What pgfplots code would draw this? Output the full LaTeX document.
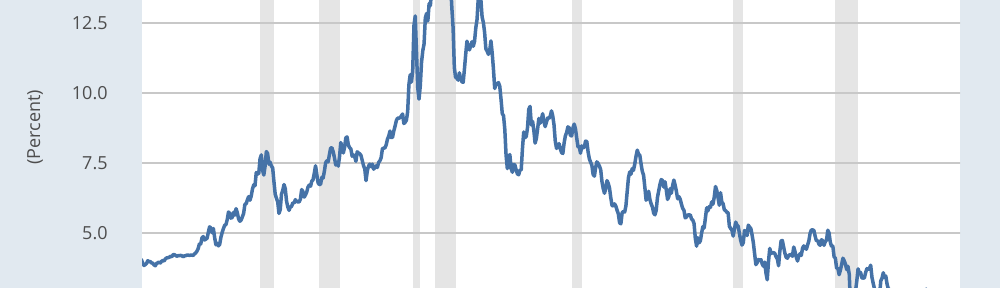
\documentclass[border=0pt]{standalone}
\usepackage{pgfplots}
\pgfplotsset{compat=1.18}
\usepackage{fontspec}
\setmainfont{Open Sans}
\definecolor{fredbg}{HTML}{E1E9F0}
\definecolor{fredline}{HTML}{4572A7}
\definecolor{recgray}{HTML}{E5E5E5}
\definecolor{gridgray}{HTML}{C8C8C8}
\definecolor{ticktext}{HTML}{4D4D4D}
\begin{document}
\begin{tikzpicture}
\fill[fredbg] (0,0) rectangle (500pt,144pt);
\node[rotate=90, font=\fontsize{9}{11}\selectfont, text=ticktext] at (17.5pt,80.3pt) {(Percent)};
\begin{axis}[
  at={(71pt,0pt)}, anchor=south west,
  scale only axis, width=409pt, height=144pt,
  xmin=1962.12, xmax=2016.15,
  ymin=3.036, ymax=13.321,
  axis background/.style={fill=white},
  axis line style={draw=none},
  xtick=\empty,
  ytick={5,7.5,10,12.5},
  major tick length=0pt,
  /pgf/number format/assume math mode=true,
  yticklabel={\pgfmathprintnumber[fixed,fixed zerofill,precision=1]{\tick}},
  yticklabel style={font=\fontsize{9}{11}\selectfont, text=ticktext, inner sep=0pt, anchor=east, xshift=-17pt},
  clip=true,
]
\addplot[fill=recgray, draw=none] coordinates {(1969.917,0) (1969.917,20) (1970.833,20) (1970.833,0)} -- cycle;
\addplot[fill=recgray, draw=none] coordinates {(1973.833,0) (1973.833,20) (1975.167,20) (1975.167,0)} -- cycle;
\addplot[fill=recgray, draw=none] coordinates {(1980.0,0) (1980.0,20) (1980.5,20) (1980.5,0)} -- cycle;
\addplot[fill=recgray, draw=none] coordinates {(1981.5,0) (1981.5,20) (1982.833,20) (1982.833,0)} -- cycle;
\addplot[fill=recgray, draw=none] coordinates {(1990.5,0) (1990.5,20) (1991.167,20) (1991.167,0)} -- cycle;
\addplot[fill=recgray, draw=none] coordinates {(2001.167,0) (2001.167,20) (2001.833,20) (2001.833,0)} -- cycle;
\addplot[fill=recgray, draw=none] coordinates {(2007.917,0) (2007.917,20) (2009.417,20) (2009.417,0)} -- cycle;
\addplot[gridgray, line width=0.65pt] coordinates {(1950,5) (2030,5)};
\addplot[gridgray, line width=0.65pt] coordinates {(1950,7.5) (2030,7.5)};
\addplot[gridgray, line width=0.65pt] coordinates {(1950,10) (2030,10)};
\addplot[gridgray, line width=0.65pt] coordinates {(1950,12.5) (2030,12.5)};
\addplot[fredline, line width=1.75pt, line join=round, mark=none]
  table[header=false, row sep=\\, y index=0, x expr={1962+\coordindex/12}] {
4.08\\ 4.04\\ 3.93\\ 3.84\\ 3.87\\ 3.91\\ 4.01\\ 3.98\\ 3.98\\ 3.93\\ 3.92\\ 3.86\\
3.83\\ 3.92\\ 3.93\\ 3.97\\ 3.93\\ 3.99\\ 4.02\\ 4.00\\ 4.08\\ 4.11\\ 4.12\\ 4.13\\
4.17\\ 4.15\\ 4.22\\ 4.23\\ 4.20\\ 4.17\\ 4.19\\ 4.19\\ 4.20\\ 4.19\\ 4.15\\ 4.18\\
4.19\\ 4.21\\ 4.21\\ 4.20\\ 4.21\\ 4.21\\ 4.20\\ 4.25\\ 4.29\\ 4.35\\ 4.45\\ 4.62\\
4.61\\ 4.83\\ 4.87\\ 4.75\\ 4.78\\ 4.81\\ 5.02\\ 5.22\\ 5.18\\ 5.01\\ 5.16\\ 4.84\\
4.58\\ 4.63\\ 4.54\\ 4.59\\ 4.85\\ 5.02\\ 5.16\\ 5.28\\ 5.30\\ 5.48\\ 5.75\\ 5.70\\
5.53\\ 5.56\\ 5.74\\ 5.64\\ 5.87\\ 5.72\\ 5.50\\ 5.42\\ 5.46\\ 5.58\\ 5.70\\ 6.03\\
6.04\\ 6.19\\ 6.30\\ 6.17\\ 6.32\\ 6.57\\ 6.72\\ 6.69\\ 7.16\\ 7.10\\ 7.14\\ 7.65\\
7.79\\ 7.24\\ 7.07\\ 7.39\\ 7.91\\ 7.84\\ 7.46\\ 7.53\\ 7.39\\ 7.33\\ 6.84\\ 6.39\\
6.24\\ 6.11\\ 5.70\\ 5.83\\ 6.39\\ 6.52\\ 6.73\\ 6.58\\ 6.14\\ 5.93\\ 5.81\\ 5.93\\
5.95\\ 6.08\\ 6.07\\ 6.19\\ 6.13\\ 6.11\\ 6.11\\ 6.21\\ 6.55\\ 6.48\\ 6.28\\ 6.36\\
6.46\\ 6.64\\ 6.71\\ 6.67\\ 6.85\\ 6.90\\ 7.13\\ 7.40\\ 7.09\\ 6.79\\ 6.73\\ 6.74\\
6.99\\ 6.96\\ 7.21\\ 7.51\\ 7.58\\ 7.54\\ 7.81\\ 8.04\\ 8.04\\ 7.90\\ 7.68\\ 7.43\\
7.50\\ 7.39\\ 7.73\\ 8.23\\ 8.06\\ 7.86\\ 8.06\\ 8.40\\ 8.43\\ 8.14\\ 8.05\\ 8.00\\
7.74\\ 7.79\\ 7.73\\ 7.56\\ 7.90\\ 7.86\\ 7.83\\ 7.77\\ 7.59\\ 7.41\\ 7.29\\ 6.87\\
7.21\\ 7.39\\ 7.46\\ 7.37\\ 7.46\\ 7.28\\ 7.33\\ 7.40\\ 7.34\\ 7.52\\ 7.58\\ 7.69\\
8.01\\ 8.03\\ 8.04\\ 8.15\\ 8.35\\ 8.46\\ 8.64\\ 8.41\\ 8.42\\ 8.64\\ 8.81\\ 9.01\\
9.10\\ 9.10\\ 9.12\\ 9.18\\ 9.25\\ 8.91\\ 8.95\\ 9.03\\ 9.33\\ 10.30\\ 10.65\\ 10.39\\
10.80\\ 12.41\\ 12.75\\ 11.47\\ 10.18\\ 9.78\\ 10.25\\ 11.10\\ 11.51\\ 11.75\\ 12.68\\ 12.84\\
12.57\\ 13.19\\ 13.12\\ 13.68\\ 14.10\\ 13.47\\ 14.28\\ 14.94\\ 15.32\\ 15.15\\ 13.39\\ 13.72\\
14.59\\ 14.43\\ 13.86\\ 13.87\\ 13.62\\ 14.30\\ 13.95\\ 13.06\\ 12.34\\ 10.91\\ 10.55\\ 10.54\\
10.46\\ 10.72\\ 10.51\\ 10.40\\ 10.38\\ 10.85\\ 11.38\\ 11.85\\ 11.65\\ 11.54\\ 11.69\\ 11.83\\
11.67\\ 11.84\\ 12.32\\ 12.63\\ 13.41\\ 13.56\\ 13.36\\ 12.72\\ 12.52\\ 12.16\\ 11.57\\ 11.50\\
11.38\\ 11.51\\ 11.86\\ 11.43\\ 10.85\\ 10.16\\ 10.31\\ 10.33\\ 10.37\\ 10.24\\ 9.78\\ 9.26\\
9.19\\ 8.70\\ 7.78\\ 7.30\\ 7.71\\ 7.80\\ 7.30\\ 7.17\\ 7.45\\ 7.43\\ 7.25\\ 7.11\\
7.08\\ 7.25\\ 7.25\\ 8.02\\ 8.61\\ 8.40\\ 8.45\\ 8.76\\ 9.42\\ 9.52\\ 8.86\\ 8.99\\
8.67\\ 8.21\\ 8.37\\ 8.72\\ 9.09\\ 8.92\\ 9.06\\ 9.26\\ 8.98\\ 8.80\\ 8.96\\ 9.11\\
9.09\\ 9.17\\ 9.36\\ 9.18\\ 8.86\\ 8.28\\ 8.02\\ 8.11\\ 8.19\\ 8.01\\ 7.87\\ 7.84\\
8.21\\ 8.47\\ 8.59\\ 8.79\\ 8.76\\ 8.48\\ 8.47\\ 8.75\\ 8.89\\ 8.72\\ 8.39\\ 8.08\\
8.09\\ 7.85\\ 8.11\\ 8.04\\ 8.07\\ 8.28\\ 8.27\\ 7.90\\ 7.65\\ 7.53\\ 7.42\\ 7.09\\
7.03\\ 7.34\\ 7.54\\ 7.48\\ 7.39\\ 7.26\\ 6.84\\ 6.59\\ 6.42\\ 6.59\\ 6.87\\ 6.77\\
6.60\\ 6.26\\ 5.98\\ 5.97\\ 6.04\\ 5.96\\ 5.81\\ 5.68\\ 5.36\\ 5.33\\ 5.72\\ 5.77\\
5.75\\ 5.97\\ 6.48\\ 6.97\\ 7.18\\ 7.10\\ 7.30\\ 7.24\\ 7.46\\ 7.74\\ 7.96\\ 7.81\\
7.78\\ 7.47\\ 7.20\\ 7.06\\ 6.63\\ 6.17\\ 6.28\\ 6.49\\ 6.20\\ 6.04\\ 5.93\\ 5.71\\
5.65\\ 5.81\\ 6.27\\ 6.51\\ 6.74\\ 6.91\\ 6.87\\ 6.64\\ 6.83\\ 6.53\\ 6.20\\ 6.30\\
6.58\\ 6.42\\ 6.69\\ 6.89\\ 6.71\\ 6.49\\ 6.22\\ 6.30\\ 6.21\\ 6.03\\ 5.88\\ 5.81\\
5.54\\ 5.57\\ 5.65\\ 5.64\\ 5.65\\ 5.50\\ 5.46\\ 5.34\\ 4.81\\ 4.53\\ 4.83\\ 4.65\\
4.72\\ 5.00\\ 5.23\\ 5.18\\ 5.54\\ 5.90\\ 5.79\\ 5.94\\ 5.92\\ 6.11\\ 6.03\\ 6.28\\
6.66\\ 6.52\\ 6.26\\ 5.99\\ 6.44\\ 6.10\\ 6.05\\ 5.83\\ 5.80\\ 5.74\\ 5.72\\ 5.24\\
5.16\\ 5.10\\ 4.89\\ 5.14\\ 5.39\\ 5.28\\ 5.24\\ 4.97\\ 4.73\\ 4.57\\ 4.65\\ 5.09\\
5.04\\ 4.91\\ 5.28\\ 5.21\\ 5.16\\ 4.93\\ 4.65\\ 4.26\\ 3.87\\ 3.94\\ 4.05\\ 4.03\\
4.05\\ 3.90\\ 3.81\\ 3.96\\ 3.57\\ 3.33\\ 3.98\\ 4.45\\ 4.27\\ 4.29\\ 4.30\\ 4.27\\
4.15\\ 4.08\\ 3.83\\ 4.35\\ 4.72\\ 4.73\\ 4.50\\ 4.28\\ 4.13\\ 4.10\\ 4.19\\ 4.23\\
4.22\\ 4.17\\ 4.50\\ 4.34\\ 4.14\\ 4.00\\ 4.18\\ 4.26\\ 4.20\\ 4.46\\ 4.54\\ 4.47\\
4.42\\ 4.57\\ 4.72\\ 4.99\\ 5.11\\ 5.11\\ 5.09\\ 4.88\\ 4.72\\ 4.73\\ 4.60\\ 4.56\\
4.76\\ 4.72\\ 4.56\\ 4.69\\ 4.75\\ 5.10\\ 5.00\\ 4.67\\ 4.52\\ 4.53\\ 4.15\\ 4.10\\
3.74\\ 3.74\\ 3.51\\ 3.68\\ 3.88\\ 4.10\\ 4.01\\ 3.89\\ 3.69\\ 3.81\\ 3.53\\ 2.42\\
2.52\\ 2.87\\ 2.82\\ 2.93\\ 3.29\\ 3.72\\ 3.56\\ 3.59\\ 3.40\\ 3.39\\ 3.40\\ 3.59\\
3.73\\ 3.69\\ 3.73\\ 3.85\\ 3.42\\ 3.20\\ 3.01\\ 2.70\\ 2.65\\ 2.54\\ 2.76\\ 3.29\\
3.39\\ 3.58\\ 3.41\\ 3.46\\ 3.17\\ 3.00\\ 3.00\\ 2.30\\ 1.98\\ 2.15\\ 2.01\\ 1.98\\
1.97\\ 1.97\\ 2.17\\ 2.05\\ 1.80\\ 1.62\\ 1.53\\ 1.68\\ 1.72\\ 1.75\\ 1.65\\ 1.72\\
1.91\\ 1.98\\ 1.96\\ 1.76\\ 1.93\\ 2.30\\ 2.58\\ 2.74\\ 2.81\\ 2.62\\ 2.72\\ 3.00\\
2.86\\ 2.71\\ 2.72\\ 2.71\\ 2.56\\ 2.60\\ 2.54\\ 2.42\\ 2.53\\ 2.30\\ 2.33\\ 2.21\\
1.88\\ 1.98\\ 2.04\\ 1.94\\ 2.20\\ 2.36\\ 2.32\\ 2.17\\ 2.17\\ 2.07\\ 2.26\\ 2.24\\
2.09\\ 1.78\\
};
\end{axis}
\end{tikzpicture}
\end{document}
